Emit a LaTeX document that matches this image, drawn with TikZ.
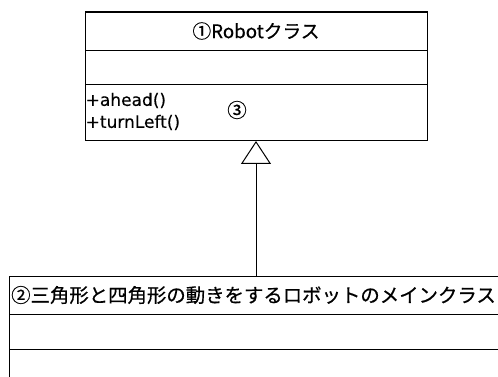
\documentclass[tikz,border=0pt]{standalone}
\usepackage{fontspec}
\setmainfont{Noto Sans CJK JP}[FakeBold=0.6]
\newfontfamily\latinfont{DejaVu Sans}[FakeBold=0.3]
\usetikzlibrary{arrows.meta}
\tikzset{
  umlbox/.style={draw=black, line width=1pt, fill=white, inner sep=0pt, anchor=north west},
  sep/.style={draw=black, line width=1pt},
  big/.style={font=\fontsize{18.7}{22}\selectfont, inner sep=0pt},
  small/.style={font=\latinfont\fontsize{17}{20}\selectfont, inner sep=0pt, anchor=west},
  inherit/.style={draw=black, line width=1pt, -{Triangle[open, length=23pt, width=30pt, line width=1pt]}}
}
\begin{document}
\begin{tikzpicture}[x=1pt, y=-1pt]
\useasboundingbox (0,0) rectangle (498,377);
\clip (0,0) rectangle (498,377);
% top class
\node[umlbox, minimum width=342pt, minimum height=127.5pt] (robot) at (85,12.5) {};
\draw[line width=2pt] (robot.north west) -- (robot.north east);
\coordinate (r1) at (85,50.7);
\coordinate (r2) at (85,84.3);
\draw[sep] (r1) -- (r1 -| robot.east);
\draw[sep] (r2) -- (r2 -| robot.east);
\node[big] (rname) at (256,31) {①Robotクラス};
\node[small] (m1) at (85.5,100.5) {+ahead()};
\node[small] (m2) at (85.5,122.5) {+turnLeft()};
\node[big, font=\fontsize{19.5}{22}\selectfont] (n3) at (237,110) {③};
% bottom class
\node[umlbox, minimum width=600pt, minimum height=200pt] (main) at (9,275.7) {};
\coordinate (b1) at (9,314);
\coordinate (b2) at (9,349);
\draw[sep] (b1) -- +(600,0);
\draw[sep] (b2) -- +(600,0);
\node[big, anchor=west, font=\fontsize{19.4}{22}\selectfont] (mname) at (11,295) {②三角形と四角形の動きをするロボットのメインクラス};
% inheritance
\draw[inherit] (main.north -| rname.south) -- (robot.south -| rname.south);
\end{tikzpicture}
\end{document}
